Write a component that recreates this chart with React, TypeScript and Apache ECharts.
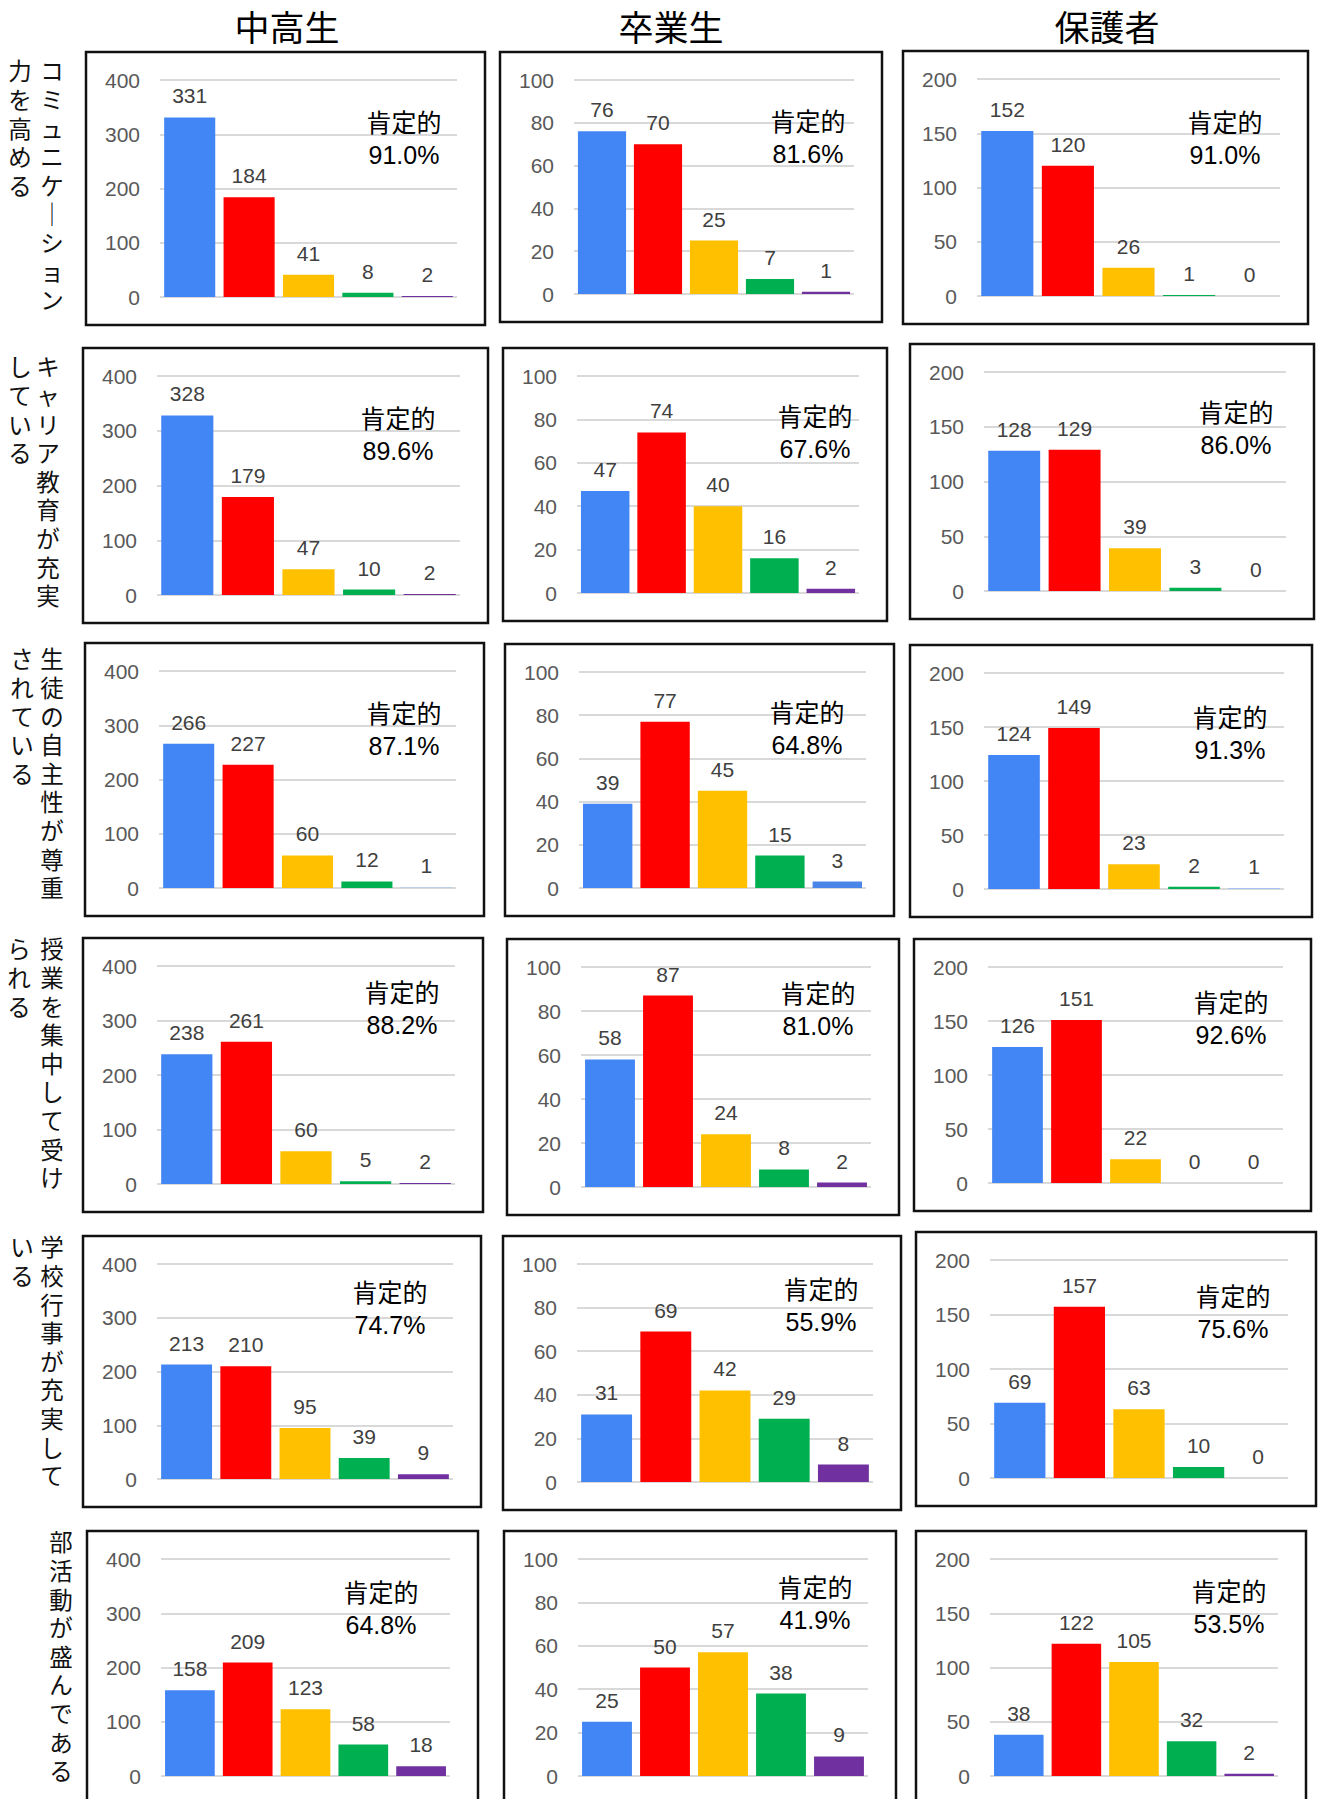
import React, { useEffect, useRef } from "react";
import * as echarts from "echarts";

// ---------- data ----------
const groups = ["中高生", "卒業生", "保護者"];
const categories = ["とてもそう思う", "そう思う", "あまりそう思わない", "そう思わない", "わからない"];
const rowLabels: string[][] = [
  ["コミュニケーション", "力を高める"],
  ["キャリア教育が充実", "している"],
  ["生徒の自主性が尊重", "されている"],
  ["授業を集中して受け", "られる"],
  ["学校行事が充実して", "いる"],
  ["部活動が盛んである"],
];
const studentValues = [
  [331, 184, 41, 8, 2],
  [328, 179, 47, 10, 2],
  [266, 227, 60, 12, 1],
  [238, 261, 60, 5, 2],
  [213, 210, 95, 39, 9],
  [158, 209, 123, 58, 18],
];
const graduateValues = [
  [76, 70, 25, 7, 1],
  [47, 74, 40, 16, 2],
  [39, 77, 45, 15, 3],
  [58, 87, 24, 8, 2],
  [31, 69, 42, 29, 8],
  [25, 50, 57, 38, 9],
];
const parentValues = [
  [152, 120, 26, 1, 0],
  [128, 129, 39, 3, 0],
  [124, 149, 23, 2, 1],
  [126, 151, 22, 0, 0],
  [69, 157, 63, 10, 0],
  [38, 122, 105, 32, 2],
];
const positiveRates = [
  ["91.0%", "81.6%", "91.0%"],
  ["89.6%", "67.6%", "86.0%"],
  ["87.1%", "64.8%", "91.3%"],
  ["88.2%", "81.0%", "92.6%"],
  ["74.7%", "55.9%", "75.6%"],
  ["64.8%", "41.9%", "53.5%"],
];
const axisMax = [400, 100, 200];
const axisInterval = [100, 20, 50];
const positiveLabel = "肯定的";

// ---------- layout / style ----------
const barColors = ["#4285f4", "#ff0000", "#ffc000", "#00b050", "#7030a0"];
const row3FifthColors = ["#a4c2f4", "#4a86e8", "#a4c2f4"];
// [x1, x2, y1, y2] for each panel box, row by row
const boxes: number[][][] = [
  [[86, 485, 52, 325], [500, 882, 52, 322], [903, 1308, 51, 324]],
  [[83, 488, 348, 623], [503, 887, 348, 621], [910, 1314, 344, 619]],
  [[85, 484, 643, 916], [505, 894, 644, 916], [910, 1312, 645, 917]],
  [[83, 483, 938, 1212], [507, 899, 939, 1215], [914, 1311, 939, 1211]],
  [[83, 481, 1236, 1507], [503, 901, 1236, 1510], [916, 1316, 1232, 1506]],
  [[87, 478, 1531, 1804], [504, 896, 1531, 1804], [916, 1306, 1531, 1804]],
];
// center x / first-line center y of the 肯定的 annotation
const rateLabelPos: number[][][] = [
  [[404, 123], [808, 122], [1225, 123]],
  [[398, 419], [815, 417], [1236, 413]],
  [[404, 714], [807, 713], [1230, 718]],
  [[402, 993], [818, 994], [1231, 1003]],
  [[390, 1293], [821, 1290], [1233, 1297]],
  [[381, 1593], [815, 1588], [1229, 1592]],
];
const rowLabelPos: number[][] = [
  [52, 20, 58],
  [48, 20, 354],
  [52, 22, 646],
  [52, 19, 936],
  [52, 22, 1234],
  [61, 0, 1529],
];
const titleX = [287, 671, 1107];

const CJK = '"Noto Sans CJK JP", "Noto Sans CJK SC", sans-serif';
const LATIN = '"Liberation Sans", Arial, sans-serif';
// compact-metric primary font, CJK glyphs come from the fallback
const STACKED = '"Liberation Sans", "Noto Sans CJK JP", sans-serif';

function verticalText(s: string): string {
  return Array.from(s)
    .map((c) => (c === "ー" ? "｜" : c))
    .join("\n");
}

function buildOption() {
  const grids: any[] = [];
  const xAxes: any[] = [];
  const yAxes: any[] = [];
  const series: any[] = [];
  const graphic: any[] = [];
  const allValues = [studentValues, graduateValues, parentValues];

  groups.forEach((g, c) => {
    graphic.push({
      type: "text",
      x: titleX[c],
      y: 25,
      style: {
        text: g,
        font: `35px ${CJK}`,
        fill: "#000",
        textAlign: "center",
        textVerticalAlign: "middle",
      },
    });
  });

  rowLabels.forEach((lines, r) => {
    const [xr, xl, y] = rowLabelPos[r];
    lines.forEach((line, i) => {
      graphic.push({
        type: "text",
        x: i === 0 ? xr : xl,
        y,
        style: {
          text: verticalText(line),
          font: `23.5px ${STACKED}`,
          lineHeight: 28.6,
          fill: "#111",
          textAlign: "center",
          textVerticalAlign: "top",
        },
      });
    });
  });

  let idx = 0;
  for (let r = 0; r < 6; r++) {
    for (let c = 0; c < 3; c++) {
      const [x1, x2, y1, y2] = boxes[r][c];
      graphic.push({
        type: "rect",
        shape: { x: x1, y: y1, width: x2 - x1, height: y2 - y1 },
        style: { fill: "none", stroke: "#111", lineWidth: 2.5 },
        z: 1,
      });
      const [lx, ly] = rateLabelPos[r][c];
      graphic.push({
        type: "text",
        x: lx,
        y: ly - 16,
        style: {
          text: `${positiveLabel}\n${positiveRates[r][c]}`,
          font: `25px ${STACKED}`,
          lineHeight: 32,
          fill: "#000",
          textAlign: "center",
          textVerticalAlign: "top",
        },
        z: 10,
      });

      grids.push({
        left: x1 + 74,
        top: y1 + 28,
        width: x2 - x1 - 102,
        height: y2 - y1 - 56,
        containLabel: false,
      });
      xAxes.push({
        type: "category",
        gridIndex: idx,
        data: categories,
        axisLine: { show: false },
        axisTick: { show: false },
        axisLabel: { show: false },
      });
      yAxes.push({
        type: "value",
        gridIndex: idx,
        min: 0,
        max: axisMax[c],
        interval: axisInterval[c],
        axisLine: { show: false },
        axisTick: { show: false },
        axisLabel: {
          color: "#595959",
          fontSize: 21,
          fontFamily: LATIN,
          margin: 20,
        },
        splitLine: { lineStyle: { color: "#d9d9d9", width: 2 } },
      });
      const vals = allValues[c][r];
      series.push({
        type: "bar",
        xAxisIndex: idx,
        yAxisIndex: idx,
        barCategoryGap: "14%",
        data: vals.map((v, i) => ({
          value: v,
          itemStyle: {
            color: r === 2 && i === 4 ? row3FifthColors[c] : barColors[i],
          },
        })),
        label: {
          show: true,
          position: "top",
          distance: 11,
          color: "#404040",
          fontSize: 21,
          fontFamily: LATIN,
        },
      });
      idx++;
    }
  }

  return {
    animation: false,
    backgroundColor: "#ffffff",
    grid: grids,
    xAxis: xAxes,
    yAxis: yAxes,
    series,
    graphic,
  };
}

export default function App() {
  const ref = useRef<HTMLDivElement>(null);
  useEffect(() => {
    if (!ref.current) return;
    const chart = echarts.init(ref.current, undefined, { renderer: "svg" });
    chart.setOption(buildOption() as any);
    return () => chart.dispose();
  }, []);
  return (
    <div
      ref={ref}
      style={{ position: "absolute", left: 0, top: 0, width: 1320, height: 1799 }}
    />
  );
}
